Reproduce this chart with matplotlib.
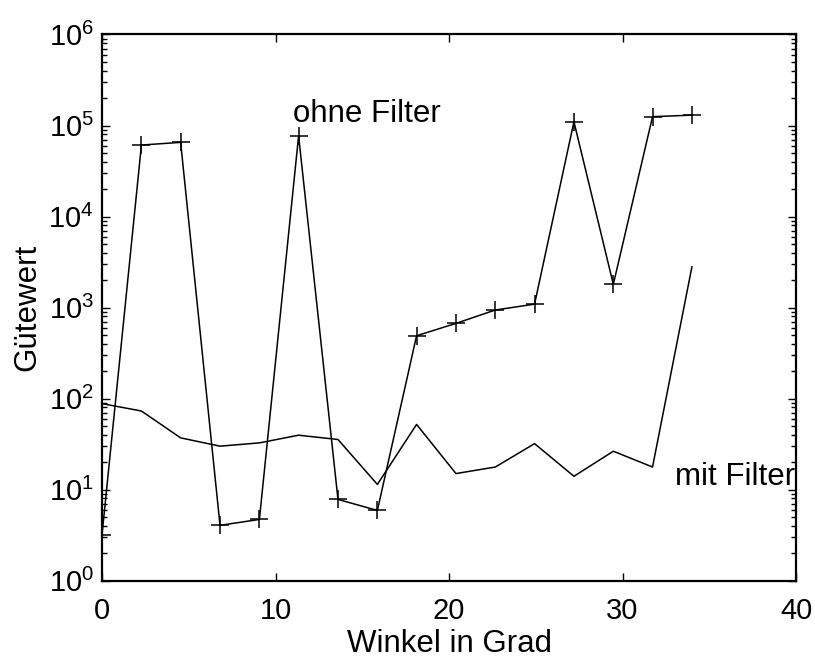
import matplotlib
matplotlib.use('Agg')
import matplotlib.pyplot as plt
from matplotlib.ticker import LogLocator, NullFormatter, FixedLocator

plt.rcParams['font.family'] = ['Liberation Sans', 'DejaVu Sans']

# Winkel (x) and Gütewert values
winkel = [0, 2.27, 4.53, 6.8, 9.07, 11.33, 13.6, 15.87, 18.13, 20.4,
          22.67, 24.93, 27.2, 29.47, 31.73, 34]
ohne_filter = [3.2, 61000, 65300, 4.05, 4.7, 77000, 7.8, 5.9, 490, 670,
               940, 1090, 110000, 1800, 125000, 130000]
mit_filter = [88, 73, 37, 30, 32.6, 39.6, 35.5, 11.4, 52, 15,
              17.7, 32, 14, 26.4, 17.7, 2800]

x_ticks = [0, 10, 20, 30, 40]

fig = plt.figure(figsize=(8.15, 6.58), dpi=100)
ax = fig.add_axes([0.1252, 0.1176, 0.8515, 0.8300])

ax.plot(winkel, ohne_filter, '-', color='black', linewidth=1.1,
        marker='+', markersize=13, markeredgewidth=1.1)
ax.plot(winkel, mit_filter, '-', color='black', linewidth=1.1)

ax.set_yscale('log')
ax.set_xlim(0, 40)
ax.set_ylim(1, 1e6)
ax.xaxis.set_major_locator(FixedLocator(x_ticks))
ax.yaxis.set_major_locator(LogLocator(base=10, numticks=10))
ax.yaxis.set_minor_locator(LogLocator(base=10, subs=range(2, 10), numticks=20))
ax.yaxis.set_minor_formatter(NullFormatter())

ax.tick_params(which='both', direction='in', top=True, right=True, width=1.0)
ax.tick_params(which='major', length=6)
ax.tick_params(which='minor', length=3.5)
ax.tick_params(axis='x', labelsize=21, pad=12)
ax.tick_params(axis='y', labelsize=21, pad=6)
for s in ax.spines.values():
    s.set_linewidth(1.6)

ax.set_xlabel('Winkel in Grad', fontsize=22.5, labelpad=3)
ax.set_ylabel('Gütewert', fontsize=22.5, labelpad=4)

ax.text(11, 1.08e5, 'ohne Filter', fontsize=22.5, va='baseline', ha='left')
ax.text(33, 11.2, 'mit Filter', fontsize=22.5, va='baseline', ha='left')

fig.savefig('out.png', dpi=100)
